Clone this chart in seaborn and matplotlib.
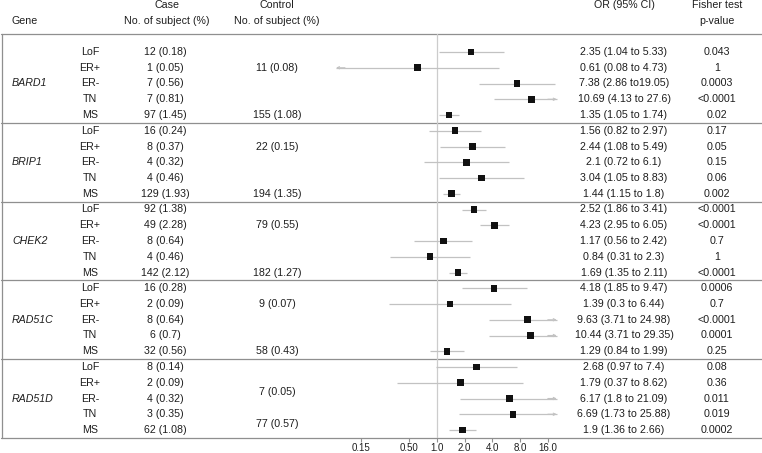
import numpy as np
import pandas as pd
import matplotlib
matplotlib.use("Agg")
import matplotlib.pyplot as plt
import seaborn as sns

# ---------------- data ----------------
genes = ["BARD1", "BRIP1", "CHEK2", "RAD51C", "RAD51D"]
subgroups = ["LoF", "ER+", "ER-", "TN", "MS"]

case_text = ["12 (0.18)", "1 (0.05)", "7 (0.56)", "7 (0.81)", "97 (1.45)",
             "16 (0.24)", "8 (0.37)", "4 (0.32)", "4 (0.46)", "129 (1.93)",
             "92 (1.38)", "49 (2.28)", "8 (0.64)", "4 (0.46)", "142 (2.12)",
             "16 (0.28)", "2 (0.09)", "8 (0.64)", "6 (0.7)", "32 (0.56)",
             "8 (0.14)", "2 (0.09)", "4 (0.32)", "3 (0.35)", "62 (1.08)"]

control_all = ["11 (0.08)", "22 (0.15)", "79 (0.55)", "9 (0.07)", "7 (0.05)"]
control_ms = ["155 (1.08)", "194 (1.35)", "182 (1.27)", "58 (0.43)", "77 (0.57)"]

odds = [2.35, 0.61, 7.38, 10.69, 1.35,
        1.56, 2.44, 2.1, 3.04, 1.44,
        2.52, 4.23, 1.17, 0.84, 1.69,
        4.18, 1.39, 9.63, 10.44, 1.29,
        2.68, 1.79, 6.17, 6.69, 1.9]
ci_low = [1.04, 0.08, 2.86, 4.13, 1.05,
          0.82, 1.08, 0.72, 1.05, 1.15,
          1.86, 2.95, 0.56, 0.31, 1.35,
          1.85, 0.3, 3.71, 3.71, 0.84,
          0.97, 0.37, 1.8, 1.73, 1.36]
ci_high = [5.33, 4.73, 19.05, 27.6, 1.74,
           2.97, 5.49, 6.1, 8.83, 1.8,
           3.41, 6.05, 2.42, 2.3, 2.11,
           9.47, 6.44, 24.98, 29.35, 1.99,
           7.4, 8.62, 21.09, 25.88, 2.66]
or_text = ["2.35 (1.04 to 5.33)", "0.61 (0.08 to 4.73)", "7.38 (2.86 to19.05)",
           "10.69 (4.13 to 27.6)", "1.35 (1.05 to 1.74)",
           "1.56 (0.82 to 2.97)", "2.44 (1.08 to 5.49)", "2.1 (0.72 to 6.1)",
           "3.04 (1.05 to 8.83)", "1.44 (1.15 to 1.8)",
           "2.52 (1.86 to 3.41)", "4.23 (2.95 to 6.05)", "1.17 (0.56 to 2.42)",
           "0.84 (0.31 to 2.3)", "1.69 (1.35 to 2.11)",
           "4.18 (1.85 to 9.47)", "1.39 (0.3 to 6.44)", "9.63 (3.71 to 24.98)",
           "10.44 (3.71 to 29.35)", "1.29 (0.84 to 1.99)",
           "2.68 (0.97 to 7.4)", "1.79 (0.37 to 8.62)", "6.17 (1.8 to 21.09)",
           "6.69 (1.73 to 25.88)", "1.9 (1.36 to 2.66)"]
p_text = ["0.043", "1", "0.0003", "<0.0001", "0.02",
          "0.17", "0.05", "0.15", "0.06", "0.002",
          "<0.0001", "<0.0001", "0.7", "1", "<0.0001",
          "0.0006", "0.7", "<0.0001", "0.0001", "0.25",
          "0.08", "0.36", "0.011", "0.019", "0.0002"]

tick_values = [0.15, 0.5, 1.0, 2.0, 4.0, 8.0, 16.0]
tick_labels = ["0.15", "0.50", "1.0", "2.0", "4.0", "8.0", "16.0"]

# ---------------- style ----------------
sns.set_theme(style="white")
plt.rcParams["font.family"] = ["Liberation Sans", "DejaVu Sans"]
FS = 7.7
TXT = "#1e1e1e"
LINE = "#8f8f8f"
CI_COL = "#c2c2c2"

W, H = 762, 453
fig = plt.figure(figsize=(W / 100, H / 100), dpi=100)
fig.patch.set_facecolor("white")

ROW0, DY = 52.0, 15.75
def ypx(r):
    return ROW0 + DY * r

TOP, BOT = 34.0, 437.5

# table overlay in pixel coordinates
tab = fig.add_axes([0, 0, 1, 1])
tab.set_xlim(0, W)
tab.set_ylim(H, 0)
tab.axis("off")

# header
tab.text(12, 21, "Gene", ha="left", va="center", fontsize=FS, color=TXT)
for x, l1, l2 in [(167, "Case", "No. of subject (%)"),
                  (277, "Control", "No. of subject (%)"),
                  (717, "Fisher test", "p-value")]:
    tab.text(x, 5.5, l1, ha="center", va="center", fontsize=FS, color=TXT)
    tab.text(x, 21, l2, ha="center", va="center", fontsize=FS, color=TXT)
tab.text(624, 5.5, "OR (95% CI)", ha="center", va="center", fontsize=FS, color=TXT)

# frame lines
tab.plot([1, W], [TOP, TOP], color=LINE, lw=0.9)
tab.plot([1, W], [BOT, BOT], color=LINE, lw=0.9)
tab.plot([1.5, 1.5], [TOP, BOT], color=LINE, lw=0.9)
for g in range(1, len(genes)):
    y = ypx(5 * g - 0.5)
    tab.plot([1, W], [y, y], color=LINE, lw=0.9)

ctrl_rows = [(1, 4), (1, 4), (1, 4), (1, 4), (1.6, 3.6)]
for gi, gene in enumerate(genes):
    base = 5 * gi
    tab.text(12, ypx(base + 2), gene, ha="left", va="center", fontsize=FS,
             color=TXT, style="italic")
    tab.text(277, ypx(base + ctrl_rows[gi][0]), control_all[gi], ha="center",
             va="center", fontsize=FS, color=TXT)
    tab.text(277, ypx(base + ctrl_rows[gi][1]), control_ms[gi], ha="center",
             va="center", fontsize=FS, color=TXT)
    for si, sg in enumerate(subgroups):
        i = base + si
        y = ypx(i)
        tab.text(90, y, sg, ha="center", va="center", fontsize=FS, color=TXT)
        tab.text(165, y, case_text[i], ha="center", va="center", fontsize=FS, color=TXT)
        tab.text(624, y, or_text[i], ha="center", va="center", fontsize=FS, color=TXT)
        tab.text(717, y, p_text[i], ha="center", va="center", fontsize=FS, color=TXT)

# ---------------- forest plot ----------------
df = pd.DataFrame({
    "gene": np.repeat(genes, len(subgroups)),
    "subgroup": subgroups * len(genes),
    "odds": odds, "lo": ci_low, "hi": ci_high,
})
df["row"] = np.arange(len(df))

LO_LIM, HI_LIM = 0.08, 20.0
PX0, PXD = 437.0, 27.7  # pixel of OR=1, pixels per doubling
L, R = 320.0, 575.0
xmin = 2 ** ((L - PX0) / PXD)
xmax = 2 ** ((R - PX0) / PXD)

ax = fig.add_axes([L / W, 1 - BOT / H, (R - L) / W, (BOT - TOP) / H])
ax.set_facecolor("none")
ax.set_xscale("log")
ax.set_xlim(xmin, xmax)
ax.set_ylim((BOT - ROW0) / DY, (TOP - ROW0) / DY)

ax.axvline(1.0, color="#cccccc", lw=0.9, zorder=1)
ax.hlines(df["row"], df["lo"].clip(lower=LO_LIM), df["hi"].clip(upper=HI_LIM),
          color=CI_COL, lw=0.9, zorder=2)
for _, r in df.iterrows():
    if r["hi"] > HI_LIM:
        ax.annotate("", xy=(HI_LIM, r["row"]), xytext=(HI_LIM * 0.8, r["row"]),
                    arrowprops=dict(arrowstyle="->", color=CI_COL, lw=0.8,
                                    mutation_scale=4, shrinkA=0, shrinkB=0))
    if r["lo"] <= LO_LIM:
        ax.annotate("", xy=(LO_LIM, r["row"]), xytext=(LO_LIM * 1.25, r["row"]),
                    arrowprops=dict(arrowstyle="->", color=CI_COL, lw=0.8,
                                    mutation_scale=4, shrinkA=0, shrinkB=0))

sns.scatterplot(data=df, x="odds", y="row", marker="s", s=22, color="#111111",
                edgecolor="none", linewidth=0, ax=ax, legend=False, zorder=3)

ax.set_xticks(tick_values)
ax.set_xticklabels(tick_labels)
ax.xaxis.set_minor_locator(matplotlib.ticker.NullLocator())
ax.set_yticks([])
ax.set_xlabel("")
ax.set_ylabel("")
ax.tick_params(axis="x", direction="out", length=3, width=0.8, color=LINE,
               labelsize=7, labelcolor=TXT, pad=1, bottom=True)
for s in ax.spines.values():
    s.set_visible(False)
ax.grid(False)

fig.savefig("out.png", dpi=100, facecolor="white")
